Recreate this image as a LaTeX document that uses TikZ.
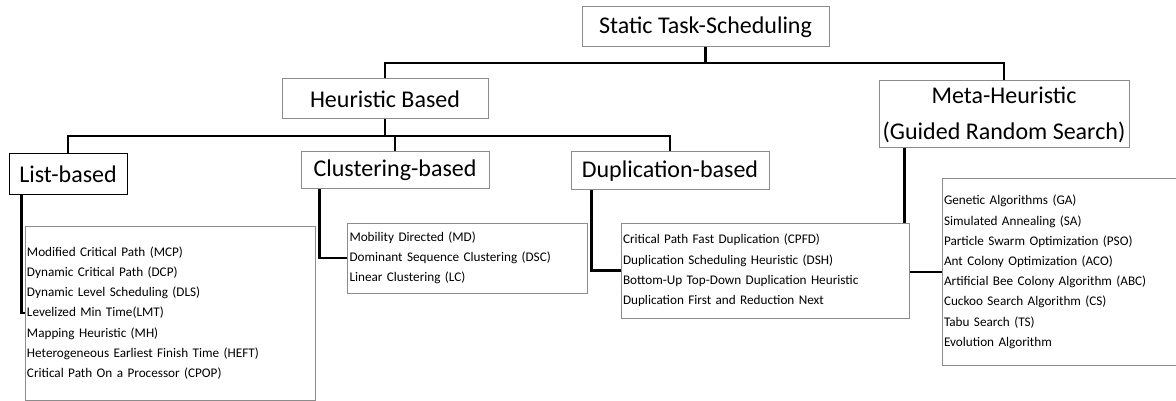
\documentclass[tikz,border=0pt]{standalone}
\usepackage{fontspec}
\setmainfont{Carlito}
\begin{document}
\begin{tikzpicture}[x=1pt,y=-1pt,
  box/.style={draw=black!45,line width=1pt,fill=white,inner sep=0pt,
    font=\fontsize{24}{36}\selectfont,align=center},
  items/.style={draw=black!45,line width=1pt,fill=white,inner xsep=2pt,inner ysep=0pt,
    font=\fontsize{13.2}{20.2}\selectfont,align=left},
  conn/.style={draw=black,line width=2.6pt}]
\useasboundingbox (0,0) rectangle (1176,401);
\node[box,minimum width=247,minimum height=40] (root) at (705.5,27) {Static Task-Scheduling};
\node[box,minimum width=206,minimum height=40] (heur) at (385,99) {Heuristic Based};
\node[box,minimum width=250,minimum height=67] (meta) at (1004,114.5) {Meta-Heuristic\\(Guided Random Search)};
\node[box,draw=black,minimum width=118,minimum height=41] (list) at (68,174.5) {List-based};
\node[box,minimum width=188,minimum height=37] (clus) at (395,170.5) {Clustering-based};
\node[box,minimum width=198,minimum height=38] (dup) at (670,171) {Duplication-based};
\coordinate (j1) at (705.5,63);
\coordinate (j2) at (385,136);
% connectors
\draw[conn] (root.south) -- (j1);
\draw[conn] (heur.north) |- (j1) -| (meta.north);
\draw[conn] (heur.south) -- (j2);
\draw[conn] (list.north) |- (j2) -| (dup.north);
\draw[conn] (clus.north) -- (clus.north |- j2);
\node[items,minimum width=290,minimum height=174,text width=286] (listitems) at (170,313)
 {Modified Critical Path (MCP)\\Dynamic Critical Path (DCP)\\Dynamic Level Scheduling (DLS)\\Levelized Min Time(LMT)\\Mapping Heuristic (MH)\\Heterogeneous Earliest Finish Time (HEFT)\\Critical Path On a Processor (CPOP)};
\node[items,minimum width=239,minimum height=70,text width=236] (clusitems) at (467.5,258)
 {Mobility Directed (MD)\\Dominant Sequence Clustering (DSC)\\Linear Clustering (LC)};
\draw[conn] ([xshift=13]list.south west) |- (listitems.west);
\draw[conn] ([xshift=19]clus.south west) |- (clusitems.west);
\draw[conn] ([xshift=21]dup.south west) |- (621,270.5);
\draw[conn] ([xshift=26]meta.south west) |- (942,272);
\node[items,minimum width=288,minimum height=95,text width=284] (dupitems) at (765,270.5)
 {Critical Path Fast Duplication (CPFD)\\Duplication Scheduling Heuristic (DSH)\\Bottom-Up Top-Down Duplication Heuristic\\Duplication First and Reduction Next};
\node[items,minimum width=240,minimum height=186,text width=236] (metaitems) at (1062,272)
 {Genetic Algorithms (GA)\\Simulated Annealing (SA)\\Particle Swarm Optimization (PSO)\\Ant Colony Optimization (ACO)\\Artificial Bee Colony Algorithm (ABC)\\Cuckoo Search Algorithm (CS)\\Tabu Search (TS)\\Evolution Algorithm};
\end{tikzpicture}
\end{document}
